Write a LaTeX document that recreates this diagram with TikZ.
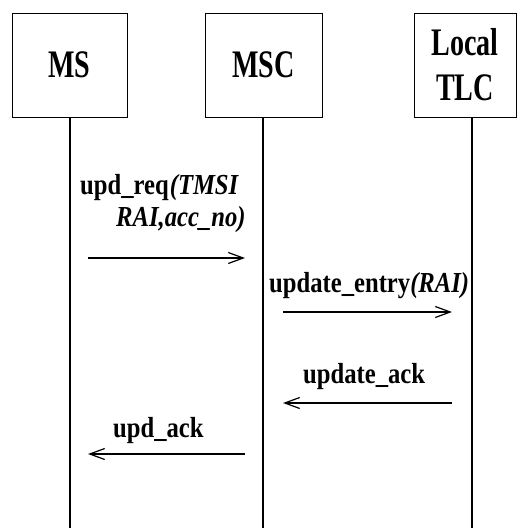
\documentclass[tikz,border=0pt]{standalone}
\usepackage{fontspec}
\newfontfamily\boxfont{Liberation Serif}[FakeStretch=0.72]
\newfontfamily\lblfont{Liberation Serif}[FakeStretch=0.85]
\usetikzlibrary{arrows.meta}
\begin{document}
\begin{tikzpicture}[x=1pt,y=-1pt,
  entity/.style={draw=black,line width=1pt,inner sep=0pt,align=center,
    font=\boxfont\bfseries\fontsize{39}{45}\selectfont},
  lifeline/.style={line width=2pt},
  msg/.style={line width=1.2pt,-{Straight Barb[length=15pt,width=11pt,line width=1.2pt]}},
  lbl/.style={inner sep=0pt,anchor=base west,font=\lblfont\bfseries\fontsize{29}{32}\selectfont}]
\useasboundingbox (0,0) rectangle (518,528);
% entities
\node[entity,minimum width=115pt,minimum height=104pt] (ms) at (69.5,65) {MS};
\node[entity,minimum width=117pt,minimum height=104pt] (msc) at (263.5,65) {MSC};
\node[entity,minimum width=102pt,minimum height=104pt] (tlc) at (465,65) {Local\\TLC};
% lifeline ends
\coordinate (msend) at (70,528);
\coordinate (mscend) at (263,528);
\coordinate (tlcend) at (472,528);
\draw[lifeline] (70,117) coordinate (mstop) -- (msend);
\draw[lifeline] (263,117) coordinate (msctop) -- (mscend);
\draw[lifeline] (472,117) coordinate (tlctop) -- (tlcend);
% message end points
\coordinate (a1s) at (88,258);  \coordinate (a1e) at (245,258);
\coordinate (a2s) at (283,312); \coordinate (a2e) at (452,312);
\coordinate (a3s) at (452,403); \coordinate (a3e) at (283,403);
\coordinate (a4s) at (245,454); \coordinate (a4e) at (88,454);
\draw[msg] (a1s) -- (a1e);
\draw[msg] (a2s) -- (a2e);
\draw[msg] (a3s) -- (a3e);
\draw[msg] (a4s) -- (a4e);
% labels
\node[lbl] (l1a) at (80,194) {upd\_req\kern1pt\textit{(TMSI}};
\node[lbl] (l1b) at (116,226) {\textit{RAI,acc\_no)}};
\node[lbl] (l2) at (269,292) {update\_entry\textit{(RAI)}};
\node[lbl] (l3) at (303,383) {update\_ack};
\node[lbl] (l4) at (113,437) {upd\_ack};
\end{tikzpicture}
\end{document}
